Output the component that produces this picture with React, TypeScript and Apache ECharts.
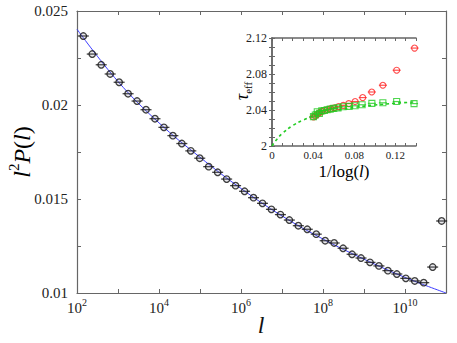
import React, { useEffect, useRef } from "react";
import * as echarts from "echarts";

// main panel data: l and l^2 P(l)
const lValues = [142.6, 235.6, 389.4, 644, 1066, 1762, 2917, 4820, 7980, 13180, 21830, 36060, 59700, 98600, 163300, 269800, 446700, 738000, 1.222e6, 2.018e6, 3.342e6, 5.52e6, 9.14e6, 1.51e7, 2.5e7, 4.13e7, 6.84e7, 1.13e8, 1.871e8, 3.09e8, 5.12e8, 8.45e8, 1.4e9, 2.31e9, 3.83e9, 6.32e9, 1.047e10, 1.73e10, 2.86e10, 4.73e10, 7.83e10];
const l2P = [0.02367, 0.02271, 0.02214, 0.02165, 0.02121, 0.0206, 0.02021, 0.01975, 0.01927, 0.01881, 0.01837, 0.01795, 0.01756, 0.01717, 0.01672, 0.01642, 0.01606, 0.01571, 0.01541, 0.01507, 0.01477, 0.01445, 0.01417, 0.01388, 0.01358, 0.01339, 0.01313, 0.01278, 0.01266, 0.01238, 0.01206, 0.01186, 0.01163, 0.01144, 0.01119, 0.01101, 0.01078, 0.01064, 0.01055, 0.01138, 0.01383];
// fit curve (blue)
const fitL = [1e2, 1e3, 1e4, 1e5, 1e6, 1e7, 1e8, 1e9, 1e10, 1e11];
const fitV = [0.02403, 0.02125, 0.01905, 0.01722, 0.01556, 0.0141, 0.01287, 0.0118, 0.01083, 0.01];
// main y tick labels
const yTickLabels = ["0.01", "0.015", "0.02", "0.025"];

// inset data: tau_eff vs 1/log(l)
const redX = [0.1386, 0.1212, 0.1078, 0.097, 0.0882, 0.0808, 0.0746, 0.0693, 0.0647, 0.0606, 0.0571, 0.0539, 0.0511, 0.0485, 0.0462, 0.0441, 0.0422, 0.0404];
const redY = [2.1088, 2.0842, 2.0675, 2.06, 2.0538, 2.0494, 2.0471, 2.0451, 2.0438, 2.0425, 2.0415, 2.0405, 2.0395, 2.0385, 2.037, 2.0352, 2.0335, 2.0322];
const greenX = [0.1381, 0.1212, 0.1078, 0.0971, 0.0876, 0.0808, 0.075, 0.0691, 0.0642, 0.0601, 0.0566, 0.0536, 0.0509, 0.0484, 0.0461, 0.044, 0.0421, 0.0403];
const greenY = [2.0471, 2.0494, 2.048, 2.0474, 2.0458, 2.0447, 2.044, 2.0436, 2.0424, 2.0418, 2.041, 2.0402, 2.0395, 2.039, 2.0362, 2.038, 2.0345, 2.0326];
const fitGX = [0, 0.005, 0.01, 0.02, 0.03, 0.04, 0.05, 0.06, 0.08, 0.1, 0.12, 0.14];
const fitGY = [2, 2.0079, 2.0139, 2.0226, 2.0286, 2.033, 2.0363, 2.0389, 2.0428, 2.0456, 2.0475, 2.049];

const SERIF = "Liberation Serif";
const AX = "#666";

export default function App() {
  const ref = useRef<HTMLDivElement>(null);
  useEffect(() => {
    if (!ref.current) return;
    const chart = echarts.init(ref.current, undefined, { renderer: "svg" });
    const mainPts = lValues.map((l, i) => [l, l2P[i]]);
    const redPts = redX.map((x, i) => [x, redY[i]]);
    const greenPts = greenX.map((x, i) => [x, greenY[i]]);
    const axLine = { show: true, lineStyle: { color: AX, width: 1.2 } };
    const tick = { show: true, inside: true, length: 4, lineStyle: { color: AX } };
    const supRich = {
      b: { fontFamily: SERIF, fontSize: 15, color: "#222", lineHeight: 18, verticalAlign: "bottom" },
      s: { fontFamily: SERIF, fontSize: 10, color: "#222", lineHeight: 18, verticalAlign: "top" },
    };
    const logLabel = (v: number) => {
      const e = Math.round(Math.log10(v));
      if (e % 2 !== 0 || e > 10) return "";
      return "{b|10}{s|" + e + "}";
    };
    const yLabel = (v: number) => {
      const m = Math.round(v * 10000);
      if (m % 50 !== 0) return "";
      const s = String(Number(v.toFixed(3)));
      return yTickLabels.includes(s) ? s : "";
    };
    const insetLabel = (v: number) => String(Number(v.toFixed(2)));

    chart.setOption({
      animation: false,
      backgroundColor: "#fff",
      textStyle: { fontFamily: SERIF },
      grid: [
        { left: 77, top: 11, width: 369, height: 282 },
        { left: 272, top: 38, width: 144, height: 108, show: true, backgroundColor: "#fff", borderWidth: 0, z: 5 },
      ],
      xAxis: [
        {
          type: "log", logBase: 10, min: 1e2, max: 1e11, splitNumber: 9, gridIndex: 0,
          axisLine: axLine, axisTick: tick, splitLine: { show: false },
          axisLabel: { formatter: logLabel, rich: supRich, margin: 4, fontFamily: SERIF },
        },
        {
          type: "log", logBase: 10, min: 1e2, max: 1e11, splitNumber: 9, gridIndex: 0, position: "top",
          axisLine: axLine, axisTick: tick, splitLine: { show: false }, axisLabel: { show: false },
        },
        {
          type: "value", min: 0, max: 0.14, interval: 0.04, gridIndex: 1,
          axisLine: { show: true, lineStyle: { color: AX, width: 1.5 } },
          axisTick: { show: true, inside: true, length: 3, lineStyle: { color: AX } },
          minorTick: { show: true, splitNumber: 4, length: 3, lineStyle: { color: AX } },
          splitLine: { show: false },
          axisLabel: { formatter: insetLabel, showMaxLabel: false, fontFamily: SERIF, fontSize: 11, color: "#222", margin: 3 },
          z: 6,
        },
        {
          type: "value", min: 0, max: 0.14, interval: 0.04, gridIndex: 1, position: "top",
          axisLine: { show: true, lineStyle: { color: AX, width: 1.5 } },
          axisTick: { show: true, inside: true, length: 3, lineStyle: { color: AX } },
          minorTick: { show: true, splitNumber: 4, length: 3, lineStyle: { color: AX } },
          splitLine: { show: false }, axisLabel: { show: false }, z: 6,
        },
      ],
      yAxis: [
        {
          type: "value", min: 0.01, max: 0.025, interval: 0.0025, gridIndex: 0,
          axisLine: axLine, axisTick: tick, splitLine: { show: false },
          axisLabel: { formatter: yLabel, fontFamily: SERIF, fontSize: 15, color: "#222", margin: 9 },
        },
        {
          type: "value", min: 0.01, max: 0.025, interval: 0.0025, gridIndex: 0, position: "right",
          axisLine: axLine, axisTick: tick, splitLine: { show: false }, axisLabel: { show: false },
        },
        {
          type: "value", min: 2, max: 2.12, interval: 0.04, gridIndex: 1,
          axisLine: { show: true, lineStyle: { color: AX, width: 1.5 } },
          axisTick: { show: true, inside: true, length: 3, lineStyle: { color: AX } },
          minorTick: { show: true, splitNumber: 4, length: 3, lineStyle: { color: AX } },
          splitLine: { show: false },
          axisLabel: { formatter: insetLabel, fontFamily: SERIF, fontSize: 12, color: "#222", margin: 5 },
          z: 6,
        },
        {
          type: "value", min: 2, max: 2.12, interval: 0.04, gridIndex: 1, position: "right",
          axisLine: { show: true, lineStyle: { color: AX, width: 1.5 } },
          axisTick: { show: true, inside: true, length: 3, lineStyle: { color: AX } },
          minorTick: { show: true, splitNumber: 4, length: 3, lineStyle: { color: AX } },
          splitLine: { show: false }, axisLabel: { show: false }, z: 6,
        },
      ],
      series: [
        {
          type: "line", xAxisIndex: 0, yAxisIndex: 0, data: fitL.map((l, i) => [l, fitV[i]]),
          smooth: 0.4, showSymbol: false, lineStyle: { color: "#3d3dff", width: 1 }, z: 2,
        },
        {
          type: "scatter", xAxisIndex: 0, yAxisIndex: 0, data: mainPts, symbol: "rect", symbolSize: [11, 1.3],
          itemStyle: { color: "#111" }, z: 3,
        },
        {
          type: "scatter", xAxisIndex: 0, yAxisIndex: 0, data: mainPts, symbol: "circle", symbolSize: 6.5,
          itemStyle: { color: "rgba(120,120,140,0.2)", borderColor: "#111", borderWidth: 1.3 }, z: 4,
        },
        {
          type: "line", xAxisIndex: 2, yAxisIndex: 2, data: fitGX.map((x, i) => [x, fitGY[i]]),
          smooth: 0.4, showSymbol: false, lineStyle: { color: "#22cc22", width: 1.6, type: [3, 3] }, z: 10,
        },
        {
          type: "scatter", xAxisIndex: 2, yAxisIndex: 2, data: redPts, symbol: "rect", symbolSize: [8, 1.2],
          itemStyle: { color: "#ff2222" }, z: 11,
        },
        {
          type: "scatter", xAxisIndex: 2, yAxisIndex: 2, data: redPts, symbol: "circle", symbolSize: 6,
          itemStyle: { color: "rgba(255,255,255,0)", borderColor: "#ff2222", borderWidth: 1.1 }, z: 11,
        },
        {
          type: "scatter", xAxisIndex: 2, yAxisIndex: 2, data: greenPts, symbol: "rect", symbolSize: [8, 1.2],
          itemStyle: { color: "#22cc22" }, z: 12,
        },
        {
          type: "scatter", xAxisIndex: 2, yAxisIndex: 2, data: greenPts, symbol: "rect", symbolSize: 6,
          itemStyle: { color: "rgba(255,255,255,0)", borderColor: "#22cc22", borderWidth: 1.1 }, z: 12,
        },
      ],
      graphic: [
        {
          type: "text", x: 20, y: 152, rotation: Math.PI / 2, z: 20,
          style: {
            text: "{i|l}{s|2}{i|P}{n|(}{i|l}{n|)}",
            align: "center", verticalAlign: "middle",
            rich: {
              i: { fontFamily: SERIF, fontStyle: "italic", fontSize: 24, color: "#111", lineHeight: 28, verticalAlign: "bottom" },
              n: { fontFamily: SERIF, fontSize: 24, color: "#111", lineHeight: 28, verticalAlign: "bottom" },
              s: { fontFamily: SERIF, fontSize: 15, color: "#111", lineHeight: 28, verticalAlign: "top" },
            },
          },
        },
        {
          type: "text", x: 261, y: 325, z: 20,
          style: { text: "l", fontFamily: SERIF, fontStyle: "italic", fontSize: 24, fill: "#111", align: "center", verticalAlign: "middle" },
        },
        {
          type: "text", x: 243, y: 91, rotation: Math.PI / 2, z: 20,
          style: {
            text: "{t|τ}{e|eff}",
            align: "center", verticalAlign: "middle",
            rich: {
              t: { fontFamily: SERIF, fontStyle: "italic", fontSize: 18, color: "#111", lineHeight: 20, verticalAlign: "top" },
              e: { fontFamily: SERIF, fontSize: 11, color: "#111", lineHeight: 20, verticalAlign: "bottom" },
            },
          },
        },
        {
          type: "text", x: 344, y: 171, z: 20,
          style: {
            text: "{n|1/log(}{i|l}{n|)}",
            align: "center", verticalAlign: "middle",
            rich: {
              n: { fontFamily: SERIF, fontSize: 17, color: "#111" },
              i: { fontFamily: SERIF, fontStyle: "italic", fontSize: 17, color: "#111" },
            },
          },
        },
      ],
    });
    return () => chart.dispose();
  }, []);
  return <div ref={ref} style={{ position: "fixed", left: 0, top: 0, width: 457, height: 343 }} />;
}
